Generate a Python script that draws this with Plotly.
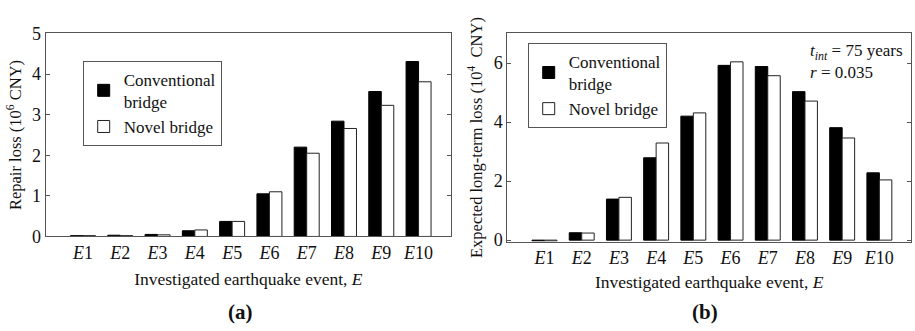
import plotly.graph_objects as go

events = ["E1", "E2", "E3", "E4", "E5", "E6", "E7", "E8", "E9", "E10"]
tick_labels = ["<i>E</i>1", "<i>E</i>2", "<i>E</i>3", "<i>E</i>4", "<i>E</i>5",
               "<i>E</i>6", "<i>E</i>7", "<i>E</i>8", "<i>E</i>9", "<i>E</i>10"]
x_pos = [1, 2, 3, 4, 5, 6, 7, 8, 9, 10]

repair_conventional = [0.02, 0.03, 0.05, 0.14, 0.37, 1.05, 2.20, 2.84, 3.57, 4.31]
repair_novel = [0.02, 0.02, 0.04, 0.16, 0.37, 1.10, 2.05, 2.66, 3.23, 3.81]

longterm_conventional = [-0.03, 0.25, 1.39, 2.79, 4.20, 5.92, 5.88, 5.03, 3.81, 2.28]
longterm_novel = [-0.03, 0.24, 1.45, 3.29, 4.31, 6.04, 5.57, 4.71, 3.46, 2.04]

FONT = "'Liberation Serif', 'Times New Roman', Times, serif"
FRAME = "#555555"

fig = go.Figure()

def add_pair(conv, nov, xa, ya, legend):
    fig.add_trace(go.Bar(x=x_pos, y=conv, name="Conventional<br>bridge",
                         marker=dict(color="black", line=dict(color="black", width=1)),
                         xaxis=xa, yaxis=ya, legend=legend, offsetgroup="c"))
    fig.add_trace(go.Bar(x=x_pos, y=nov, name="Novel bridge",
                         marker=dict(color="white", line=dict(color="#222222", width=1)),
                         xaxis=xa, yaxis=ya, legend=legend, offsetgroup="n"))

add_pair(repair_conventional, repair_novel, "x", "y", "legend")
add_pair(longterm_conventional, longterm_novel, "x2", "y2", "legend2")

W, H = 915, 331
axis_common = dict(showline=True, linecolor=FRAME, linewidth=1, mirror=True,
                   showgrid=False, zeroline=False,
                   tickfont=dict(family=FONT, size=18, color="#111"))

fig.update_layout(
    width=W, height=H, autosize=False,
    margin=dict(l=0, r=0, t=0, b=0),
    paper_bgcolor="white", plot_bgcolor="white",
    barmode="group", bargap=0.33, bargroupgap=0.0,
    font=dict(family=FONT, size=16, color="#111"),
    xaxis=dict(domain=[45.7 / W, 451 / W], range=[0, 10.87], anchor="y",
               tickvals=x_pos, ticktext=tick_labels, ticks="",
               title=dict(text="Investigated earthquake event, <i>E</i>",
                          font=dict(family=FONT, size=17.5), standoff=10),
               **axis_common),
    yaxis=dict(domain=[1 - 241 / H, 1 - 25 / H], range=[0, 5], anchor="x",
               tickvals=[0, 1, 2, 3, 4, 5], ticks="inside", ticklen=4, tickcolor=FRAME,
               title=dict(text="Repair loss (10<sup>6</sup> CNY)",
                          font=dict(family=FONT, size=16.5), standoff=6),
               **{**axis_common, "mirror": "ticks"}),
    xaxis2=dict(domain=[507.3 / W, 911 / W], range=[0, 10.85], anchor="y2",
                tickvals=x_pos, ticktext=tick_labels, ticks="",
                title=dict(text="Investigated earthquake event, <i>E</i>",
                           font=dict(family=FONT, size=17.5), standoff=8),
                **axis_common),
    yaxis2=dict(domain=[1 - 246.5 / H, 1 - 25 / H], range=[-0.05, 7], anchor="x2",
                tickvals=[0, 2, 4, 6], ticks="inside", ticklen=4, tickcolor=FRAME,
                title=dict(text="Expected long-term loss (10<sup>4</sup>  CNY)",
                           font=dict(family=FONT, size=16.5), standoff=6),
                **{**axis_common, "mirror": "ticks"}),
    legend=dict(x=82.7 / W, y=1 - 54 / H, xanchor="left", yanchor="top",
                bordercolor=FRAME, borderwidth=1, bgcolor="white",
                font=dict(family=FONT, size=17, color="#111"),
                tracegroupgap=0, itemwidth=30),
    legend2=dict(x=527.7 / W, y=1 - 35 / H, xanchor="left", yanchor="top",
                 bordercolor=FRAME, borderwidth=1, bgcolor="white",
                 font=dict(family=FONT, size=17, color="#111"),
                 tracegroupgap=0, itemwidth=30),
    annotations=[
        dict(text="<b>(a)</b>", x=241 / W, y=1 - 321 / H, xref="paper", yref="paper",
             xanchor="center", yanchor="middle",
             showarrow=False, font=dict(family=FONT, size=21, color="#111")),
        dict(text="<b>(b)</b>", x=705 / W, y=1 - 321 / H, xref="paper", yref="paper",
             xanchor="center", yanchor="middle",
             showarrow=False, font=dict(family=FONT, size=21, color="#111")),
        dict(text="<i>t<sub>int</sub></i> = 75 years", x=808 / W, y=1 - 45 / H,
             xref="paper", yref="paper", xanchor="left", yanchor="middle",
             showarrow=False, font=dict(family=FONT, size=17, color="#111")),
        dict(text="<i>r</i> = 0.035", x=808 / W, y=1 - 67 / H,
             xref="paper", yref="paper", xanchor="left", yanchor="middle",
             showarrow=False, font=dict(family=FONT, size=17, color="#111")),
    ],
)

fig.write_html("out.html")
